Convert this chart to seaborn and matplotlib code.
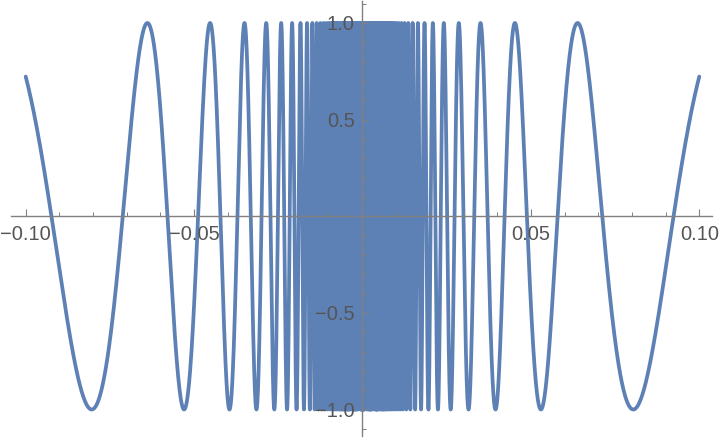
import numpy as np
import matplotlib
matplotlib.use("Agg")
import matplotlib.pyplot as plt
import seaborn as sns
from matplotlib.ticker import MultipleLocator, FixedLocator, FuncFormatter

# values
x_range = [-0.1, 0.1]
first_trough_x = 0.0804      # outermost trough (y = -1) at |x| ~ 0.0804
extrema_spacing = 3.22       # distance between neighbouring extrema, measured in 1/|x|
x_tick_labels = [-0.10, -0.05, 0.05, 0.10]
y_tick_labels = [-1.0, -0.5, 0.5, 1.0]

line_color = "#5E81B5"
axis_color = "#808080"
label_color = "#555555"

# the plotted curve: oscillation in 1/|x| through the extrema above
x = np.linspace(x_range[0], x_range[1], 60000)
u = 1.0 / np.abs(x)
y = -np.cos(np.pi * (u - 1.0 / first_trough_x) / extrema_spacing)

sns.set_style("white")
plt.rcParams["font.family"] = ["Liberation Sans", "DejaVu Sans"]

fig = plt.figure(figsize=(7.2, 4.38), dpi=100)
ax = fig.add_axes([0, 0, 1, 1])
sns.lineplot(x=x, y=y, ax=ax, estimator=None, sort=False, errorbar=None,
             color=line_color, linewidth=2.7, zorder=1)

ax.set_xlim(-0.10763, 0.10615)
ax.set_ylim(-1.1475, 1.119)
ax.set_axisbelow(False)

for side in ["top", "right"]:
    ax.spines[side].set_visible(False)
ax.spines["left"].set_position(("data", 0))
ax.spines["bottom"].set_position(("data", 0))
ax.spines["bottom"].set_bounds(-0.1044, 0.1037)
ax.spines["left"].set_bounds(-1.135, 1.115)
for side in ["left", "bottom"]:
    ax.spines[side].set_color(axis_color)
    ax.spines[side].set_linewidth(1.0)
    ax.spines[side].set_zorder(3)

ax.xaxis.set_major_locator(FixedLocator(x_tick_labels))
ax.xaxis.set_minor_locator(MultipleLocator(0.01))
ax.yaxis.set_major_locator(FixedLocator(y_tick_labels))
ax.yaxis.set_minor_locator(MultipleLocator(0.1))
ax.xaxis.set_major_formatter(FuncFormatter(lambda v, p: f"{v:.2f}".replace("-", "\u2212")))
ax.yaxis.set_major_formatter(FuncFormatter(lambda v, p: f"{v:.1f}".replace("-", "\u2212")))

ax.tick_params(axis="both", which="both", bottom=True, left=True, top=False, right=False)
ax.tick_params(axis="both", which="major", direction="in", length=5, width=0.8,
               color=axis_color, labelcolor=label_color, labelsize=14.5)
ax.tick_params(axis="both", which="minor", direction="in", length=2.6, width=0.7,
               color=axis_color)
ax.tick_params(axis="x", which="major", pad=6)
ax.tick_params(axis="y", which="major", pad=5.5)
ax.set_xlabel("")
ax.set_ylabel("")

fig.savefig("out.png", dpi=100)
